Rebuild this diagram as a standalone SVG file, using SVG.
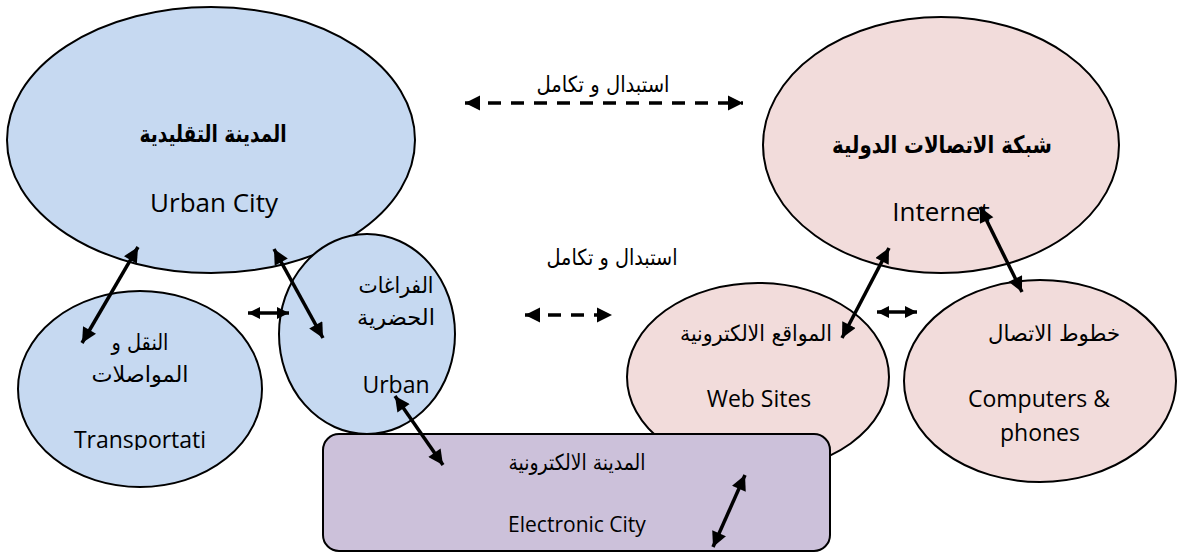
<svg xmlns="http://www.w3.org/2000/svg" width="1183" height="553" viewBox="0 0 1183 553">
<style>
.blue{fill:#c6d9f1;stroke:#000;stroke-width:2}
.pink{fill:#f2dcdb;stroke:#000;stroke-width:2}
.purple{fill:#ccc1da;stroke:#000;stroke-width:2}
.ar{font-family:"DejaVu Sans",sans-serif;font-size:22px;fill:#000;text-anchor:middle}
.arb{font-family:"DejaVu Sans",sans-serif;font-size:24px;font-weight:bold;fill:#000;text-anchor:middle}
.en{font-family:"Open Sans",sans-serif;font-size:23px;fill:#000;text-anchor:middle}
.big{font-size:26px}
.solid{stroke:#000;stroke-width:3.5;fill:none;marker-start:url(#ah);marker-end:url(#ah)}
.dash{stroke:#000;stroke-width:3.5;fill:none;stroke-dasharray:13 10;marker-start:url(#ahd);marker-end:url(#ahd)}
.small{stroke:#000;stroke-width:3.5;fill:none;marker-start:url(#ahs);marker-end:url(#ahs)}
</style>
<defs>
<marker id="ah" viewBox="0 0 10 10" refX="10" refY="5" markerUnits="userSpaceOnUse" markerWidth="16" markerHeight="15" orient="auto-start-reverse"><path d="M0,0 L10,5 L0,10 z" fill="#000"/></marker>
<marker id="ahd" viewBox="0 0 10 10" refX="10" refY="5" markerUnits="userSpaceOnUse" markerWidth="15" markerHeight="16" orient="auto-start-reverse"><path d="M0,0 L10,5 L0,10 z" fill="#000"/></marker>
<marker id="ahs" viewBox="0 0 10 10" refX="10" refY="5" markerUnits="userSpaceOnUse" markerWidth="12" markerHeight="12" orient="auto-start-reverse"><path d="M0,0 L10,5 L0,10 z" fill="#000"/></marker>
<clipPath id="clipT"><rect x="0" y="0" width="400" height="450"/></clipPath>
</defs>

<g id="node-urban-city">
<ellipse class="blue" cx="211" cy="140" rx="204" ry="133"/>
<text class="arb" x="213" y="142" textLength="147" lengthAdjust="spacingAndGlyphs">المدينة التقليدية</text>
<text class="en big" x="214" y="212">Urban City</text>
</g>

<g id="node-internet">
<ellipse class="pink" cx="941" cy="145" rx="178" ry="128"/>
<text class="arb" x="942" y="153" textLength="220" lengthAdjust="spacingAndGlyphs">شبكة الاتصالات الدولية</text>
<text class="en big" x="941" y="221">Internet</text>
</g>

<g id="node-transport">
<ellipse class="blue" cx="140" cy="389" rx="122" ry="98"/>
<text class="ar" x="140" y="350" textLength="57" lengthAdjust="spacingAndGlyphs">النقل و</text>
<text class="ar" x="140" y="382" textLength="97" lengthAdjust="spacingAndGlyphs">المواصلات</text>
<text class="en" x="140" y="448" clip-path="url(#clipT)">Transportati</text>
</g>

<g id="node-urban">
<ellipse class="blue" cx="367" cy="334" rx="88" ry="100"/>
<text class="ar" x="396" y="293" textLength="75" lengthAdjust="spacingAndGlyphs">الفراغات</text>
<text class="ar" x="396" y="325" textLength="78" lengthAdjust="spacingAndGlyphs">الحضرية</text>
<text class="en" x="396" y="393">Urban</text>
</g>

<g id="node-websites">
<ellipse class="pink" cx="758" cy="377" rx="131" ry="94"/>
<text class="ar" x="756" y="341" textLength="152" lengthAdjust="spacingAndGlyphs">المواقع الالكترونية</text>
<text class="en" x="759" y="407">Web Sites</text>
</g>

<g id="node-computers">
<ellipse class="pink" cx="1040" cy="381" rx="136" ry="101"/>
<text class="ar" x="1054" y="341" textLength="132" lengthAdjust="spacingAndGlyphs">خطوط الاتصال</text>
<text class="en" x="1039" y="407">Computers &amp;</text>
<text class="en" x="1040" y="441">phones</text>
</g>

<g id="node-electronic-city">
<rect class="purple" x="323" y="434" width="507" height="117" rx="16" ry="16"/>
<text class="ar" x="577" y="470" textLength="137" lengthAdjust="spacingAndGlyphs">المدينة الالكترونية</text>
<text class="en" x="577" y="532" style="font-size:21px">Electronic City</text>
</g>

<g id="labels">
<text class="ar" x="603" y="92" textLength="133" lengthAdjust="spacingAndGlyphs">استبدال و تكامل</text>
<text class="ar" x="612" y="265" textLength="131" lengthAdjust="spacingAndGlyphs">استبدال و تكامل</text>
</g>

<g id="connectors">
<line class="dash" x1="465" y1="103" x2="743" y2="103"/>
<line class="dash" x1="525" y1="315" x2="612" y2="315"/>
<line class="small" x1="248" y1="313" x2="289" y2="313"/>
<line class="small" x1="877" y1="312" x2="917" y2="312"/>
<line class="solid" x1="82" y1="343" x2="138" y2="247"/>
<line class="solid" x1="274" y1="249" x2="323" y2="338"/>
<line class="solid" x1="395" y1="396" x2="443" y2="465"/>
<line class="solid" x1="745" y1="475" x2="713" y2="547"/>
<line class="solid" x1="842" y1="338" x2="889" y2="248"/>
<line class="solid" x1="980" y1="207" x2="1022" y2="292"/>
</g>
</svg>
